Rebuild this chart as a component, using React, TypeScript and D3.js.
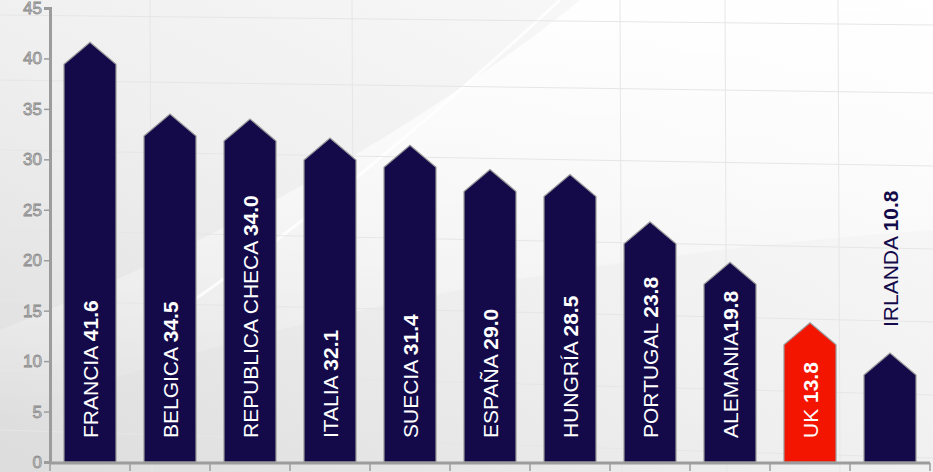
import { useEffect, useRef } from "react";
import * as d3 from "d3";

const countries = [
  "FRANCIA",
  "BELGICA",
  "REPUBLICA CHECA",
  "ITALIA",
  "SUECIA",
  "ESPAÑA",
  "HUNGRÍA",
  "PORTUGAL",
  "ALEMANIA",
  "UK",
  "IRLANDA",
];
const values = [41.6, 34.5, 34.0, 32.1, 31.4, 29.0, 28.5, 23.8, 19.8, 13.8, 10.8];
const highlight = ["UK"];
const yTicks = [0, 5, 10, 15, 20, 25, 30, 35, 40, 45];

const width = 933;
const height = 472;
const navy = "#140a4a";
const red = "#f31500";

function drawChart(svgEl: SVGSVGElement) {
  const svg = d3.select(svgEl);
  svg.selectAll("*").remove();

  const x = d3
    .scaleBand<string>()
    .domain(countries)
    .range([50, 930])
    .paddingInner(0.35)
    .paddingOuter(0.175);
  const y = d3.scaleLinear().domain([0, 45]).range([462, 8]);

  // background
  const defs = svg.append("defs");
  const bg = defs
    .append("linearGradient")
    .attr("id", "bg")
    .attr("x1", "0")
    .attr("y1", "1")
    .attr("x2", "1")
    .attr("y2", "0");
  bg.append("stop").attr("offset", "0").attr("stop-color", "#dcdcdc");
  bg.append("stop").attr("offset", "0.45").attr("stop-color", "#efefef");
  bg.append("stop").attr("offset", "1").attr("stop-color", "#fcfcfc");
  const sw = defs
    .append("linearGradient")
    .attr("id", "sw")
    .attr("x1", "0")
    .attr("y1", "0")
    .attr("x2", "0")
    .attr("y2", "1");
  sw.append("stop").attr("offset", "0").attr("stop-color", "#ffffff").attr("stop-opacity", 0.9);
  sw.append("stop").attr("offset", "1").attr("stop-color", "#ffffff").attr("stop-opacity", 0);

  svg.append("rect").attr("width", width).attr("height", height).attr("fill", "url(#bg)");

  // swoosh
  svg
    .append("path")
    .attr("d", `M0,330 C200,250 420,130 580,0 L${width},0 L${width},230 C650,250 300,300 0,420 Z`)
    .attr("fill", "url(#sw)");
  svg
    .append("path")
    .attr("d", "M150,330 C300,230 430,120 560,0")
    .attr("fill", "none")
    .attr("stroke", "#ffffff")
    .attr("stroke-width", 3)
    .attr("opacity", 0.8);

  // faint grid
  const grid = svg.append("g").attr("stroke", "#e6e6e6").attr("stroke-width", 1).attr("fill", "none");
  grid
    .selectAll("line.v")
    .data([150, 352, 620, 725, 838])
    .join("line")
    .attr("x1", (d) => d)
    .attr("x2", (d) => d + 2)
    .attr("y1", 0)
    .attr("y2", height);
  grid
    .selectAll("line.h")
    .data([15, 80, 150, 230, 300, 370, 430])
    .join("line")
    .attr("x1", 0)
    .attr("x2", width)
    .attr("y1", (d) => d)
    .attr("y2", (d, i) => d + 10 + i * 3);

  // bars
  const arrowH = 22;
  svg
    .append("g")
    .selectAll("path")
    .data(countries)
    .join("path")
    .attr("d", (c, i) => {
      const x0 = x(c)!;
      const x1 = x0 + x.bandwidth();
      const top = y(values[i]);
      const base = y(0);
      return `M${x0},${base}L${x0},${top + arrowH}L${(x0 + x1) / 2},${top}L${x1},${top + arrowH}L${x1},${base}Z`;
    })
    .attr("fill", (c) => (highlight.includes(c) ? red : navy))
    .attr("stroke", "#9a9a9a")
    .attr("stroke-width", 1.2);

  // axes
  const axisColor = "#9c9c9c";
  const yAxis = svg.append("g").attr("transform", "translate(50,0)");
  yAxis
    .call(d3.axisLeft(y).tickValues(yTicks).tickSize(6).tickPadding(2))
    .call((g) => g.select(".domain").attr("stroke", axisColor).attr("stroke-width", 3))
    .call((g) => g.selectAll(".tick line").attr("stroke", axisColor).attr("stroke-width", 1.5));
  yAxis
    .selectAll(".tick text")
    .attr("font-family", "Arial, 'Liberation Sans', sans-serif")
    .attr("font-size", 17)
    .attr("fill", "#d2d2d2")
    .attr("stroke", "#8a8a8a")
    .attr("stroke-width", 0.8);

  const xAxis = svg.append("g").attr("transform", `translate(0,${y(0) + 1})`);
  const bounds = countries.map((c) => x(c)! - (x.step() - x.bandwidth()) / 2).concat([930]);
  xAxis
    .append("line")
    .attr("x1", 50)
    .attr("x2", 930)
    .attr("stroke", axisColor)
    .attr("stroke-width", 3);
  xAxis
    .selectAll("line.tk")
    .data(bounds)
    .join("line")
    .attr("class", "tk")
    .attr("x1", (d) => d)
    .attr("x2", (d) => d)
    .attr("y1", 0)
    .attr("y2", 8)
    .attr("stroke", axisColor)
    .attr("stroke-width", 1.5);

  // labels
  const fmt = d3.format(".1f");
  const labels = svg
    .append("g")
    .attr("font-family", "Arial, 'Liberation Sans', sans-serif")
    .attr("font-size", 21)
    .selectAll("text")
    .data(countries)
    .join("text")
    .attr("dy", "0.36em");
  labels.append("tspan").text((c) => (c === "ALEMANIA" ? c : c + " "));
  labels
    .append("tspan")
    .attr("font-weight", "bold")
    .text((c, i) => fmt(values[i]));
  labels.each(function (c, i) {
    const t = this as SVGTextElement;
    const len = t.getComputedTextLength();
    const cx = x(c)! + x.bandwidth() / 2;
    const barH = y(0) - y(values[i]);
    let yStart = y(0) - 24;
    let fill = "#ffffff";
    if (len + 40 > barH) {
      yStart = y(values[i]) - 26;
      fill = navy;
    }
    d3.select(t)
      .attr("fill", fill)
      .attr("transform", `translate(${cx},${yStart}) rotate(-90)`);
  });
}

export default function App() {
  const ref = useRef<SVGSVGElement>(null);
  useEffect(() => {
    if (ref.current) drawChart(ref.current);
  }, []);
  return (
    <div style={{ position: "absolute", left: 0, top: 0 }}>
      <svg ref={ref} width={width} height={height} style={{ display: "block" }} />
    </div>
  );
}
